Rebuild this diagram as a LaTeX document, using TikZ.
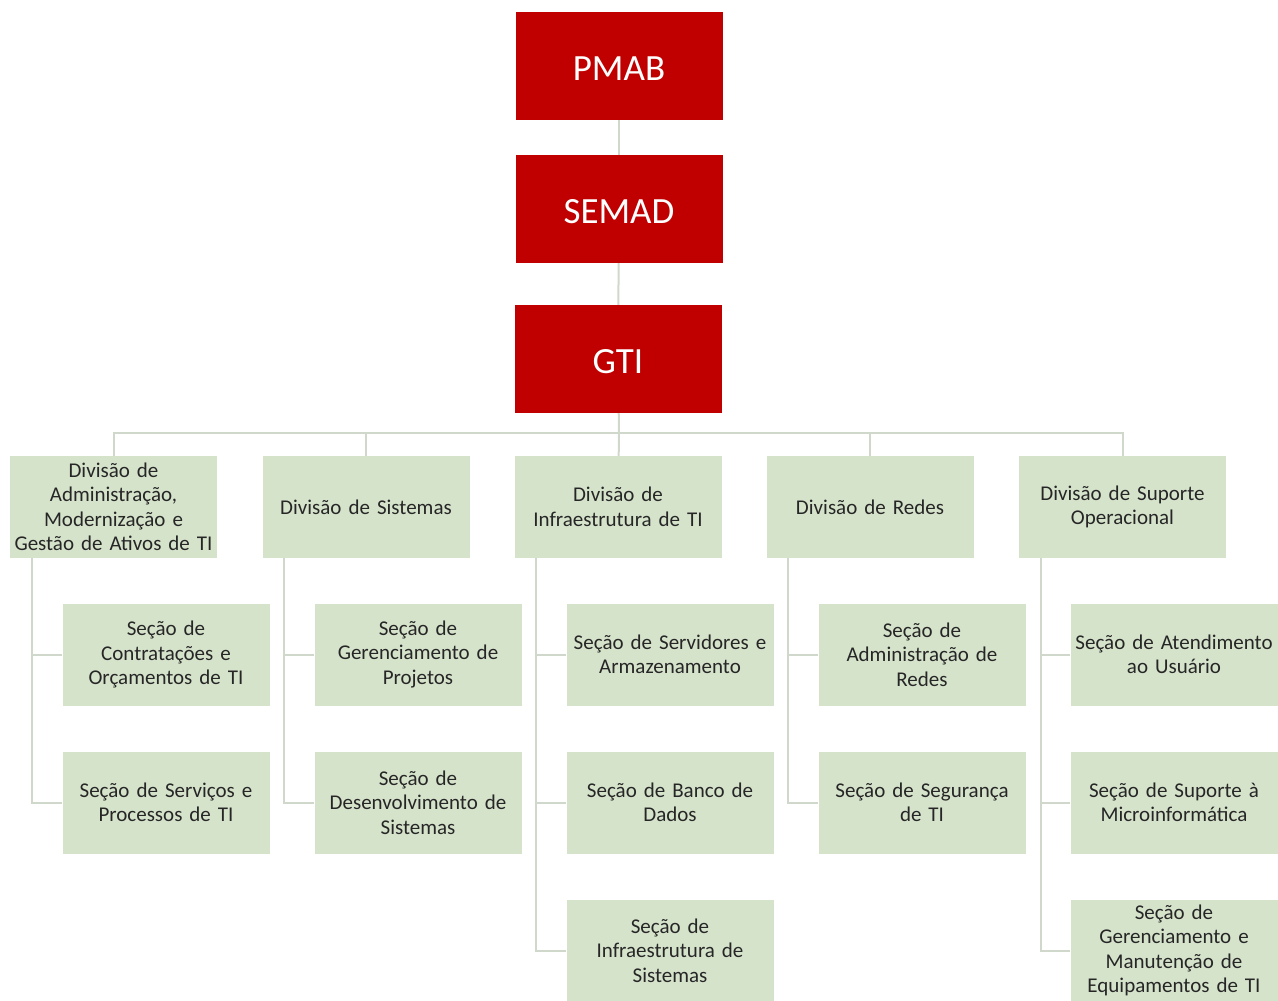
\documentclass[tikz,border=0pt]{standalone}
\usepackage{fontspec}
\setmainfont{Carlito}
\usepackage{xcolor}
\usepackage{tikz}
\usetikzlibrary{positioning,calc}
\definecolor{topred}{RGB}{192,0,0}
\definecolor{boxgreen}{RGB}{214,227,203}
\definecolor{linegray}{RGB}{208,216,204}
\definecolor{textgray}{RGB}{38,38,38}

\begin{document}
\begin{tikzpicture}[
    x=1pt, y=-1pt,
    top/.style={rectangle, fill=topred, text=white, minimum width=207pt, minimum height=108pt, inner sep=0pt, text height=29pt, text depth=0pt, font=\fontsize{37}{42}\selectfont},
    unit/.style={rectangle, fill=boxgreen, text=textgray, minimum width=207pt, minimum height=102pt, inner sep=0pt, text width=207pt, align=center, font=\fontsize{21}{24.5}\selectfont},
    link/.style={draw=linegray, line width=2pt}
]
    \useasboundingbox (0,0) rectangle (1278,1001);

    % top of the chart
    \node[top] (pmab) at (619,66) {PMAB};
    \node[top] (semad) at (619,209) {SEMAD};
    \node[top] (gti) at (618,359) {GTI};
    \coordinate (bus) at (619,433);

    % divisions
    \node[unit] (adm) at (113.5,507) {Divisão de\\Administração,\\Modernização e\\Gestão de Ativos de TI};
    \node[unit] (sis) at (366,507) {Divisão de Sistemas};
    \node[unit] (infra) at (618,507) {Divisão de\\Infraestrutura de TI};
    \node[unit] (redes) at (870,507) {Divisão de Redes};
    \node[unit] (sup) at (1122.5,507) {Divisão de Suporte\\Operacional};

    % sections
    \node[unit] (admA) at (166,654.5) {Seção de\\Contratações e\\Orçamentos de TI};
    \node[unit] (admB) at (166,802.5) {Seção de Serviços e\\Processos de TI};
    \node[unit] (sisA) at (418,654.5) {Seção de\\Gerenciamento de\\Projetos};
    \node[unit] (sisB) at (418,802.5) {Seção de\\Desenvolvimento de\\Sistemas};
    \node[unit] (infraA) at (670,654.5) {Seção de Servidores e\\Armazenamento};
    \node[unit] (infraB) at (670,802.5) {Seção de Banco de\\Dados};
    \node[unit] (infraC) at (670,950.5) {Seção de\\Infraestrutura de\\Sistemas};
    \node[unit] (redesA) at (922,654.5) {Seção de\\Administração de\\Redes};
    \node[unit] (redesB) at (922,802.5) {Seção de Segurança\\de TI};
    \node[unit] (supA) at (1174,654.5) {Seção de Atendimento\\ao Usuário};
    \node[unit] (supB) at (1174,802.5) {Seção de Suporte à\\Microinformática};
    \node[unit] (supC) at (1174,950.5) {Seção de\\Gerenciamento e\\Manutenção de\\Equipamentos de TI};

    % connectors
    \draw[link] (pmab) -- (semad);
    \draw[link] (semad) -- (gti);
    \draw[link] (gti) -- (bus);
    \draw[link] (bus) -| (adm);
    \draw[link] (bus) -| (sis);
    \draw[link] (bus) -- (infra);
    \draw[link] (bus) -| (redes);
    \draw[link] (bus) -| (sup);

    \draw[link] ([xshift=22pt]adm.south west) |- (admB.west);
    \draw[link] ([xshift=22pt]adm.south west) |- (admA.west);
    \draw[link] ([xshift=22pt]sis.south west) |- (sisB.west);
    \draw[link] ([xshift=22pt]sis.south west) |- (sisA.west);
    \draw[link] ([xshift=22pt]infra.south west) |- (infraC.west);
    \draw[link] ([xshift=22pt]infra.south west) |- (infraB.west);
    \draw[link] ([xshift=22pt]infra.south west) |- (infraA.west);
    \draw[link] ([xshift=22pt]redes.south west) |- (redesB.west);
    \draw[link] ([xshift=22pt]redes.south west) |- (redesA.west);
    \draw[link] ([xshift=22pt]sup.south west) |- (supC.west);
    \draw[link] ([xshift=22pt]sup.south west) |- (supB.west);
    \draw[link] ([xshift=22pt]sup.south west) |- (supA.west);
\end{tikzpicture}
\end{document}
